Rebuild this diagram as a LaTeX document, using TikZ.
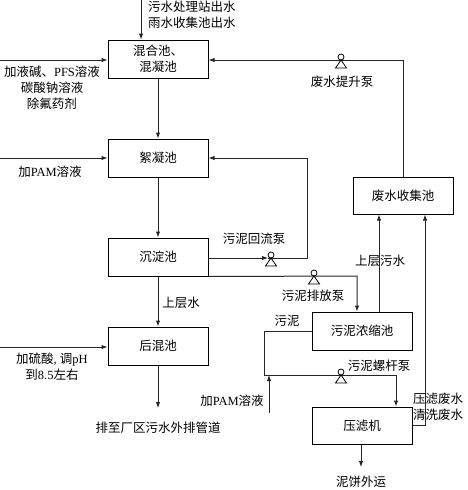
\documentclass[tikz,border=0pt]{standalone}
\usepackage{fontspec}
\setmainfont{Noto Sans CJK SC}
\newfontfamily\lat{Liberation Serif}
\usetikzlibrary{arrows.meta,calc}
\tikzset{
  box/.style={draw, line width=1pt, minimum width=100pt, minimum height=38pt, inner sep=0pt, align=center, font=\fontsize{12.5}{16}\selectfont},
  lbl/.style={inner sep=0pt, align=center, font=\fontsize{12.5}{16}\selectfont},
  ln/.style={line width=1pt, draw=black!85},
  arr/.style={ln, -{Latex[length=6pt,width=4.5pt]}},
  pump/.pic={\draw[line width=0.8pt] (0,-3) circle [radius=3pt];
             \draw[line width=0.8pt] (0,0) -- (-5.5,8) -- (5.5,8) -- cycle;}
}
\begin{document}
\begin{tikzpicture}[x=1pt,y=-1pt]
\useasboundingbox (0,0) rectangle (467,490);
% boxes
\node[box] (mix) at (158,59) {混合池、\\混凝池};
\node[box] (floc) at (158,158) {絮凝池};
\node[box] (sed) at (158,257) {沉淀池};
\node[box] (post) at (158,346) {后混池};
\node[box, minimum height=37pt] (coll) at (403,195.5) {废水收集池};
\node[box] (thick) at (362,331) {污泥浓缩池};
\node[box, minimum height=37pt] (press) at (362,425.5) {压滤机};
% coordinates
\coordinate (in1) at (141,0);
\coordinate (inL1) at (0,60);
\coordinate (inL2) at (0,158);
\coordinate (inL3) at (0,347);
\coordinate (out1) at (158,408);
\coordinate (rcA) at (307,258);
\coordinate (rcB) at (307,158);
\coordinate (p1) at (271,258);
\coordinate (p1a) at (268,258);
\coordinate (sdA) at (357,276);
\coordinate (p2) at (314,276);
\coordinate (liftA) at (403,60);
\coordinate (p3) at (341,60);
\coordinate (pwA) at (425,425);
\coordinate (slA) at (264,331);
\coordinate (slB) at (264,375);
\coordinate (slC) at (396,375);
\coordinate (p4) at (341,375);
\coordinate (pam2) at (269,413);
\coordinate (cake) at (361,467);
% connectors
\draw[arr] (in1) -- (in1 |- mix.north);
\draw[arr] (inL1) -- (inL1 -| mix.west);
\draw[arr] (mix) -- (floc);
\draw[arr] (inL2) -- (inL2 -| floc.west);
\draw[arr] (floc) -- (sed);
\draw[arr] (p1 -| sed.east) -- (p1a);
\draw[ln] (p1a) -- (rcA) -- (rcB);
\draw[arr] (rcB) -- (rcB -| floc.east);
\draw[arr] (sed.south east) -- (sdA) -- (sdA |- thick.north);
\draw[arr] (sed) -- (post);
\draw[arr] (inL3) -- (inL3 -| post.west);
\draw[arr] (post) -- (out1);
\draw[arr] (thick.north -| 379,0) -- (coll.south -| 379,0);
\draw[arr] (pwA -| press.east) -- (pwA) -- (pwA |- coll.south);
\draw[arr] (coll.north -| liftA) -- (liftA) -- (liftA -| mix.east);
\draw[arr] (slA -| thick.west) -- (slA) -- (slB) -- (slC) -- (slC |- press.north);
\draw[arr] (pam2) -- (pam2 |- slB);
\draw[arr] (press.south -| cake) -- (cake);
% pumps
\pic at (p1) {pump};
\pic at (p2) {pump};
\pic at (p3) {pump};
\pic at (p4) {pump};
% labels
\node[lbl, anchor=west, align=left] (t1) at (148,14.5) {污水处理站出水\\雨水收集池出水};
\node[lbl] (t2) at (52,88) {加液碱、{\lat PFS}溶液\\碳酸钠溶液\\除氟药剂};
\node[lbl] (t3) at (50,172) {加{\lat PAM}溶液};
\node[lbl] (t4) at (342,82) {废水提升泵};
\node[lbl] (t5) at (254,239) {污泥回流泵};
\node[lbl] (t6) at (380,261) {上层污水};
\node[lbl] (t7) at (313,296) {污泥排放泵};
\node[lbl] (t8) at (181,303) {上层水};
\node[lbl] (t9) at (52,367) {加硫酸{\lat , }调{\lat pH}\\到{\lat 8.5}左右};
\node[lbl] (t10) at (158,428) {排至厂区污水外排管道};
\node[lbl] (t11) at (287,321) {污泥};
\node[lbl] (t12) at (379,366) {污泥螺杆泵};
\node[lbl] (t13) at (232,401) {加{\lat PAM}溶液};
\node[lbl, anchor=west, align=left] (t14) at (413,406.5) {压滤废水\\清洗废水};
\node[lbl] (t15) at (361,482) {泥饼外运};
\end{tikzpicture}
\end{document}
